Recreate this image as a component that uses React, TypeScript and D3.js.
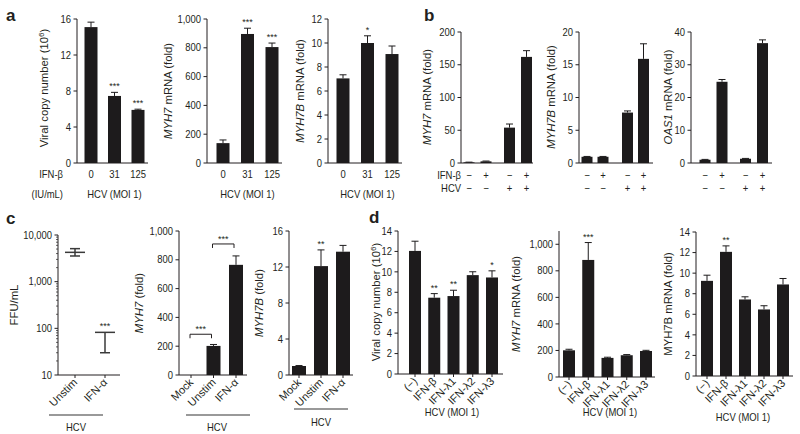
import React from "react";
import * as d3 from "d3";

const FONT = "'Liberation Sans', Arial, Helvetica, sans-serif";
const INK = "#231f20";
const BAR = "#1d1b1c";
const SQ = 0.9; // horizontal condensation of horizontal labels

// ---------- Panel a ----------
const aDoses = ["0", "31", "125"];
const aViral = [15.1, 7.45, 5.9];
const aViralErr = [0.55, 0.4, 0.08];
const aViralSig = ["", "***", "***"];
const aMyh7 = [138, 896, 805];
const aMyh7Err = [22, 40, 28];
const aMyh7Sig = ["", "***", "***"];
const aMyh7b = [7.05, 10.0, 9.08];
const aMyh7bErr = [0.3, 0.6, 0.67];
const aMyh7bSig = ["", "*", ""];

// ---------- Panel b ----------
const bGroups = ["mock", "HCV"];
const bIfn = ["−", "+"];
const bIfnRow = ["−", "+", "−", "+"];
const bHcvRow = ["−", "−", "+", "+"];
const bMyh7 = [1, 2.5, 54, 162];
const bMyh7Err = [0.3, 0.5, 5.5, 9.5];
const bMyh7b = [0.95, 0.95, 7.7, 15.9];
const bMyh7bErr = [0.05, 0.05, 0.25, 2.3];
const bOas1 = [1, 24.8, 1.3, 36.6];
const bOas1Err = [0.1, 0.7, 0.1, 1.0];

// ---------- Panel c ----------
const cCats = ["Unstim", "IFN-α"];
const cFfuMean = [4250, 82];
const cFfuUpper = [5100, 82];
const cFfuLower = [3550, 30];
const cFfuSig = ["", "***"];
const cGeneCats = ["Mock", "Unstim", "IFN-α"];
const cMyh7 = [0, 202, 765];
const cMyh7Err = [0, 10, 62];
const cMyh7Brackets: [string, string, number, string][] = [
  ["Mock", "Unstim", 283, "***"],
  ["Unstim", "IFN-α", 910, "***"],
];
const cMyh7b = [1.0, 12.1, 13.7];
const cMyh7bErr = [0.05, 1.8, 0.7];
const cMyh7bSig = ["", "**", ""];

// ---------- Panel d ----------
const dCats = ["(−)", "IFN-β", "IFN-λ1", "IFN-λ2", "IFN-λ3"];
const dViral = [12.05, 7.47, 7.63, 9.68, 9.45];
const dViralErr = [0.95, 0.4, 0.57, 0.33, 0.65];
const dViralSig = ["", "**", "**", "", "*"];
const dMyh7 = [201, 882, 144, 164, 196];
const dMyh7Err = [8, 131, 5, 5, 5];
const dMyh7Sig = ["", "***", "", "", ""];
const dMyh7b = [9.25, 12.07, 7.44, 6.47, 8.9];
const dMyh7bErr = [0.55, 0.58, 0.26, 0.36, 0.58];
const dMyh7bSig = ["", "**", "", "", ""];

type Lin = d3.ScaleLinear<number, number> | d3.ScaleLogarithmic<number, number>;

function HText({ x, y, anchor = "middle", size = 10.5, dy, children }: { x: number; y: number; anchor?: string; size?: number; dy?: string; children: React.ReactNode }) {
  return (
    <text transform={`translate(${x},${y}) scale(${SQ},1)`} dy={dy} textAnchor={anchor as any} fontSize={size} fill={INK}>
      {children}
    </text>
  );
}

function YAxis({ x, y, ticks, fmt, minor }: { x: number; y: Lin; ticks: number[]; fmt: (v: number) => string; minor?: number[] }) {
  const [r0, r1] = y.range();
  return (
    <g>
      <line x1={x} x2={x} y1={r0} y2={r1} stroke={INK} strokeWidth={1} />
      {(minor || []).map((t, i) => (
        <line key={"m" + i} x1={x - 2} x2={x} y1={y(t)} y2={y(t)} stroke={INK} strokeWidth={0.7} />
      ))}
      {ticks.map((t) => (
        <g key={t}>
          <line x1={x - 3.5} x2={x} y1={y(t)} y2={y(t)} stroke={INK} strokeWidth={1} />
          <HText x={x - 6} y={y(t)} dy="0.35em" anchor="end">
            {fmt(t)}
          </HText>
        </g>
      ))}
    </g>
  );
}

function XLine({ x0, x1, y, ticks }: { x0: number; x1: number; y: number; ticks?: number[] }) {
  return (
    <g>
      <line x1={x0} x2={x1} y1={y} y2={y} stroke={INK} strokeWidth={1} />
      {(ticks || []).map((t, i) => (
        <line key={i} x1={t} x2={t} y1={y} y2={y + 3} stroke={INK} strokeWidth={1} />
      ))}
    </g>
  );
}

function Bars({ xs, y, vals, errs, sig, w }: { xs: number[]; y: Lin; vals: number[]; errs: number[]; sig?: string[]; w: number }) {
  const y0 = y(0 as any);
  return (
    <g>
      {vals.map((v, i) => {
        const cx = xs[i];
        const top = y(v);
        const et = y(v + errs[i]);
        return (
          <g key={i}>
            {v > 0 && <rect x={cx - w / 2} y={top} width={w} height={y0 - top} fill={BAR} />}
            {errs[i] > 0 && (
              <g stroke={BAR} strokeWidth={1}>
                <line x1={cx} x2={cx} y1={top} y2={et} />
                <line x1={cx - 3.5} x2={cx + 3.5} y1={et} y2={et} />
              </g>
            )}
            {sig && sig[i] && (
              <text x={cx} y={et - 3} textAnchor="middle" fontSize={9} fill={INK}>
                {sig[i]}
              </text>
            )}
          </g>
        );
      })}
    </g>
  );
}

function YLabel({ x, yc, children }: { x: number; yc: number; children: React.ReactNode }) {
  return (
    <text transform={`translate(${x},${yc}) rotate(-90)`} textAnchor="middle" fontSize={11.3} fill={INK}>
      {children}
    </text>
  );
}

function RotLabels({ xs, y, labels }: { xs: number[]; y: number; labels: string[] }) {
  return (
    <g>
      {labels.map((l, i) => (
        <text key={i} transform={`translate(${xs[i] + 3},${y + 8}) rotate(-45)`} textAnchor="end" fontSize={11} fill={INK}>
          {l}
        </text>
      ))}
    </g>
  );
}

const comma = d3.format(",");
const plain = d3.format("d");

export default function App() {
  // ----- a -----
  const aY1 = d3.scaleLinear().domain([0, 16]).range([163, 19]);
  const aY2 = d3.scaleLinear().domain([0, 1000]).range([163, 19]);
  const aY3 = d3.scaleLinear().domain([0, 12]).range([163, 19]);
  const aX1 = d3.scalePoint<string>().domain(aDoses).range([91, 138]);
  const aX2 = d3.scalePoint<string>().domain(aDoses).range([223, 272]);
  const aX3 = d3.scalePoint<string>().domain(aDoses).range([343, 392]);
  const ax1 = aDoses.map((d) => aX1(d)!);
  const ax2 = aDoses.map((d) => aX2(d)!);
  const ax3 = aDoses.map((d) => aX3(d)!);

  // ----- b -----
  const bPos = (g0: number, g1: number, inner: number) => {
    const outer = d3.scalePoint<string>().domain(bGroups).range([g0, g1]);
    const inn = d3.scalePoint<string>().domain(bIfn).range([-inner / 2, inner / 2]);
    const out: number[] = [];
    bGroups.forEach((g) => bIfn.forEach((f) => out.push(outer(g)! + inn(f)!)));
    return out;
  };
  const bx1 = bPos(477.5, 518, 17);
  const bx2 = bPos(595, 635.5, 16);
  const bx3 = bPos(713.5, 754, 17);
  const bY1 = d3.scaleLinear().domain([0, 200]).range([163, 32]);
  const bY2 = d3.scaleLinear().domain([0, 20]).range([163, 32]);
  const bY3 = d3.scaleLinear().domain([0, 40]).range([163, 32]);

  // ----- c -----
  const cY1 = d3.scaleLog().domain([10, 10000]).range([375, 235]);
  const cX1 = d3.scalePoint<string>().domain(cCats).range([75, 105]);
  const cx1 = cCats.map((c) => cX1(c)!);
  const minorC: number[] = [];
  [10, 100, 1000].forEach((dec) => {
    for (let k = 2; k <= 9; k++) minorC.push(dec * k);
  });
  const cY2 = d3.scaleLinear().domain([0, 1000]).range([375, 231]);
  const cX2 = d3.scalePoint<string>().domain(cGeneCats).range([191, 236]);
  const cx2 = cGeneCats.map((c) => cX2(c)!);
  const cY3 = d3.scaleLinear().domain([0, 16]).range([375, 231]);
  const cX3 = d3.scalePoint<string>().domain(cGeneCats).range([299, 343]);
  const cx3 = cGeneCats.map((c) => cX3(c)!);

  // ----- d -----
  const dY1 = d3.scaleLinear().domain([0, 14]).range([374, 231]);
  const dY2 = d3.scaleLinear().domain([0, 1100]).range([377, 231]);
  const dY3 = d3.scaleLinear().domain([0, 14]).range([376, 232]);
  const dX1 = d3.scalePoint<string>().domain(dCats).range([415, 492]);
  const dX2 = d3.scalePoint<string>().domain(dCats).range([569, 646]);
  const dX3 = d3.scalePoint<string>().domain(dCats).range([707, 783]);
  const dx1 = dCats.map((c) => dX1(c)!);
  const dx2 = dCats.map((c) => dX2(c)!);
  const dx3 = dCats.map((c) => dX3(c)!);

  const aLabelY1 = 178;
  const aLabelY2 = 198;

  return (
    <svg
      width={800}
      height={434}
      style={{ position: "fixed", left: 0, top: 0, background: "#fff" }}
      fontFamily={FONT}
    >
      <rect width={800} height={434} fill="#fff" />
      {/* panel letters */}
      <text x={6} y={21} fontSize={17} fontWeight="bold" fill={INK}>a</text>
      <text x={424} y={21} fontSize={17} fontWeight="bold" fill={INK}>b</text>
      <text x={6} y={224} fontSize={17} fontWeight="bold" fill={INK}>c</text>
      <text x={369} y={223} fontSize={17} fontWeight="bold" fill={INK}>d</text>

      {/* ===== a1 ===== */}
      <YAxis x={77} y={aY1} ticks={[0, 4, 8, 12, 16]} fmt={plain} />
      <XLine x0={77} x1={148} y={163} />
      <Bars xs={ax1} y={aY1} vals={aViral} errs={aViralErr} sig={aViralSig} w={13} />
      <YLabel x={48} yc={88}>
        Viral copy number (10<tspan dy={-4} fontSize={8}>6</tspan>
        <tspan dy={4}>)</tspan>
      </YLabel>
      <HText x={63} y={aLabelY1} anchor="end">IFN-β</HText>
      <HText x={63} y={aLabelY2} anchor="end">(IU/mL)</HText>
      {aDoses.map((d, i) => (
        <HText key={i} x={ax1[i]} y={aLabelY1}>{d}</HText>
      ))}
      <HText x={ax1[1]} y={aLabelY2}>HCV (MOI 1)</HText>

      {/* ===== a2 ===== */}
      <YAxis x={207} y={aY2} ticks={[0, 200, 400, 600, 800, 1000]} fmt={comma} />
      <XLine x0={207} x1={282} y={163} />
      <Bars xs={ax2} y={aY2} vals={aMyh7} errs={aMyh7Err} sig={aMyh7Sig} w={13} />
      <YLabel x={172} yc={91}>
        <tspan fontStyle="italic">MYH7</tspan> mRNA (fold)
      </YLabel>
      {aDoses.map((d, i) => (
        <HText key={i} x={ax2[i]} y={aLabelY1}>{d}</HText>
      ))}
      <HText x={ax2[1]} y={aLabelY2}>HCV (MOI 1)</HText>

      {/* ===== a3 ===== */}
      <YAxis x={328} y={aY3} ticks={[0, 2, 4, 6, 8, 10, 12]} fmt={plain} />
      <XLine x0={328} x1={402} y={163} />
      <Bars xs={ax3} y={aY3} vals={aMyh7b} errs={aMyh7bErr} sig={aMyh7bSig} w={13} />
      <YLabel x={304} yc={91}>
        <tspan fontStyle="italic">MYH7B</tspan> mRNA (fold)
      </YLabel>
      {aDoses.map((d, i) => (
        <HText key={i} x={ax3[i]} y={aLabelY1}>{d}</HText>
      ))}
      <HText x={ax3[1]} y={aLabelY2}>HCV (MOI 1)</HText>

      {/* ===== b1 ===== */}
      <YAxis x={461} y={bY1} ticks={[0, 50, 100, 150, 200]} fmt={plain} />
      <XLine x0={461} x1={533} y={163} />
      <Bars xs={bx1} y={bY1} vals={bMyh7} errs={bMyh7Err} w={11} />
      <YLabel x={431} yc={97}>
        <tspan fontStyle="italic">MYH7</tspan> mRNA (fold)
      </YLabel>
      <HText x={461} y={179} anchor="end">IFN-β</HText>
      <HText x={461} y={192} anchor="end">HCV</HText>

      {/* ===== b2 ===== */}
      <YAxis x={579} y={bY2} ticks={[0, 5, 10, 15, 20]} fmt={plain} />
      <XLine x0={579} x1={653} y={163} />
      <Bars xs={bx2} y={bY2} vals={bMyh7b} errs={bMyh7bErr} w={11} />
      <YLabel x={555} yc={97}>
        <tspan fontStyle="italic">MYH7B</tspan> mRNA (fold)
      </YLabel>

      {/* ===== b3 ===== */}
      <YAxis x={691} y={bY3} ticks={[0, 10, 20, 30, 40]} fmt={plain} />
      <XLine x0={691} x1={772} y={163} />
      <Bars xs={bx3} y={bY3} vals={bOas1} errs={bOas1Err} w={11} />
      <YLabel x={672} yc={97}>
        <tspan fontStyle="italic">OAS1</tspan> mRNA (fold)
      </YLabel>

      {[bx1, bx2, bx3].map((xs, k) => (
        <g key={k}>
          {xs.map((x, i) => (
            <g key={i}>
              <HText x={x} y={179}>{bIfnRow[i]}</HText>
              <HText x={x} y={192}>{bHcvRow[i]}</HText>
            </g>
          ))}
        </g>
      ))}

      {/* ===== c1 ===== */}
      <YAxis x={58} y={cY1} ticks={[10, 100, 1000, 10000]} fmt={comma} minor={minorC} />
      <XLine x0={58} x1={120} y={375} ticks={cx1} />
      {cCats.map((c, i) => {
        const x = cx1[i];
        return (
          <g key={c} stroke="#3a3a3a" strokeWidth={1.5}>
            <line x1={x} x2={x} y1={cY1(cFfuLower[i])} y2={cY1(cFfuUpper[i])} />
            <line x1={x - 10} x2={x + 10} y1={cY1(cFfuMean[i])} y2={cY1(cFfuMean[i])} />
            <line x1={x - 5} x2={x + 5} y1={cY1(cFfuLower[i])} y2={cY1(cFfuLower[i])} />
            {cFfuUpper[i] > cFfuMean[i] && (
              <line x1={x - 5} x2={x + 5} y1={cY1(cFfuUpper[i])} y2={cY1(cFfuUpper[i])} />
            )}
          </g>
        );
      })}
      {cCats.map((c, i) =>
        cFfuSig[i] ? (
          <text key={c} x={cx1[i]} y={cY1(cFfuUpper[i]) - 3} textAnchor="middle" fontSize={9} fill={INK}>
            {cFfuSig[i]}
          </text>
        ) : null
      )}
      <YLabel x={18} yc={305}>FFU/mL</YLabel>
      <RotLabels xs={cx1} y={375} labels={cCats} />
      <line x1={49} x2={103} y1={415} y2={415} stroke="#999" strokeWidth={1.8} />
      <HText x={76} y={431}>HCV</HText>

      {/* ===== c2 ===== */}
      <YAxis x={179} y={cY2} ticks={[0, 200, 400, 600, 800, 1000]} fmt={comma} />
      <XLine x0={179} x1={247} y={375} ticks={cx2} />
      <Bars xs={cx2} y={cY2} vals={cMyh7} errs={cMyh7Err} w={14} />
      {cMyh7Brackets.map(([a, b, v, s], i) => {
        const xa = cX2(a)! - 1;
        const xb = cX2(b)! - 2;
        const yy = cY2(v);
        return (
          <g key={i}>
            <path d={`M${xa},${yy + 4}V${yy}H${xb}V${yy + 4}`} fill="none" stroke={INK} strokeWidth={1} />
            <text x={(xa + xb) / 2} y={yy - 2} textAnchor="middle" fontSize={9} fill={INK}>{s}</text>
          </g>
        );
      })}
      <YLabel x={143} yc={303}>
        <tspan fontStyle="italic">MYH7</tspan> (fold)
      </YLabel>
      <RotLabels xs={cx2} y={375} labels={cGeneCats} />
      <line x1={186} x2={250} y1={415} y2={415} stroke="#999" strokeWidth={1.8} />
      <HText x={217} y={431}>HCV</HText>

      {/* ===== c3 ===== */}
      <YAxis x={289} y={cY3} ticks={[0, 4, 8, 12, 16]} fmt={plain} />
      <XLine x0={289} x1={353} y={375} ticks={cx3} />
      <Bars xs={cx3} y={cY3} vals={cMyh7b} errs={cMyh7bErr} sig={cMyh7bSig} w={14} />
      <YLabel x={263} yc={303}>
        <tspan fontStyle="italic">MYH7B</tspan> (fold)
      </YLabel>
      <RotLabels xs={cx3} y={375} labels={cGeneCats} />
      <line x1={294} x2={348} y1={409} y2={409} stroke="#999" strokeWidth={1.8} />
      <HText x={321} y={426}>HCV</HText>

      {/* ===== d1 ===== */}
      <YAxis x={398} y={dY1} ticks={[0, 2, 4, 6, 8, 10, 12, 14]} fmt={plain} />
      <XLine x0={398} x1={503} y={374} ticks={dx1} />
      <Bars xs={dx1} y={dY1} vals={dViral} errs={dViralErr} sig={dViralSig} w={12} />
      <YLabel x={380} yc={302}>
        Viral copy number (10<tspan dy={-4} fontSize={8}>6</tspan>
        <tspan dy={4}>)</tspan>
      </YLabel>
      <RotLabels xs={dx1} y={374} labels={dCats} />
      <HText x={452} y={416}>HCV (MOI 1)</HText>

      {/* ===== d2 ===== */}
      <YAxis x={559} y={dY2} ticks={[0, 200, 400, 600, 800, 1000]} fmt={comma} />
      <XLine x0={559} x1={655} y={377} ticks={dx2} />
      <Bars xs={dx2} y={dY2} vals={dMyh7} errs={dMyh7Err} sig={dMyh7Sig} w={12} />
      <YLabel x={520} yc={304}>
        <tspan fontStyle="italic">MYH7</tspan> mRNA (fold)
      </YLabel>
      <RotLabels xs={dx2} y={377} labels={dCats} />
      <HText x={610} y={416}>HCV (MOI 1)</HText>

      {/* ===== d3 ===== */}
      <YAxis x={696} y={dY3} ticks={[0, 2, 4, 6, 8, 10, 12, 14]} fmt={plain} />
      <XLine x0={696} x1={793} y={376} ticks={dx3} />
      <Bars xs={dx3} y={dY3} vals={dMyh7b} errs={dMyh7bErr} sig={dMyh7bSig} w={12} />
      <YLabel x={672} yc={304}>
        MYH7B mRNA (fold)
      </YLabel>
      <RotLabels xs={dx3} y={376} labels={dCats} />
      <HText x={743} y={421}>HCV (MOI 1)</HText>
    </svg>
  );
}
